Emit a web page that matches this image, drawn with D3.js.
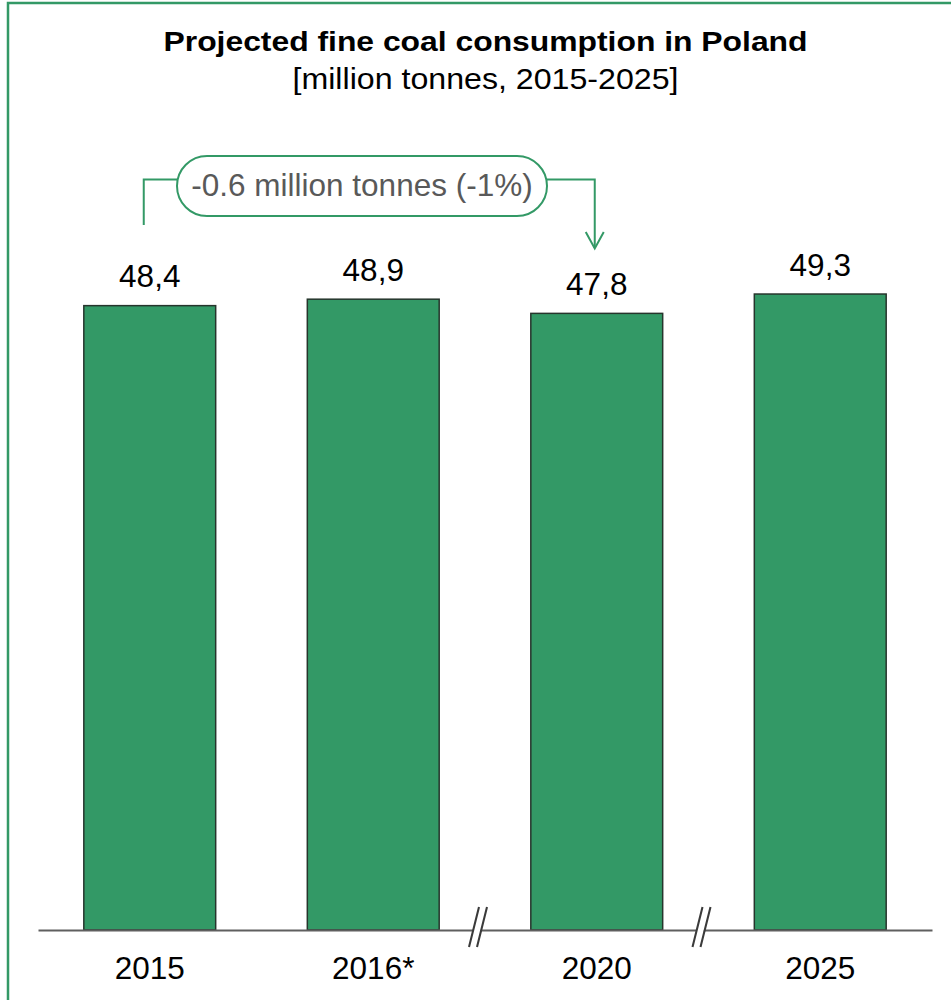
<!DOCTYPE html>
<html>
<head>
<meta charset="utf-8">
<script src="https://cdn.jsdelivr.net/npm/d3@7"></script>
<style>
  html, body { margin: 0; padding: 0; background: #fff; }
  svg { display: block; font-family: "Liberation Sans", Arial, sans-serif; }
</style>
</head>
<body>
<svg id="chart" width="951" height="1000"></svg>
<script>
// Fine coal consumption in Poland, million tonnes
const years = ["2015", "2016*", "2020", "2025"];
const consumption = [48.4, 48.9, 47.8, 49.3];
const valueLabels = ["48,4", "48,9", "47,8", "49,3"];
// axis breaks sit before these categories (gaps in the time series)
const breaksBefore = ["2020", "2025"];
const changeLabel = "-0.6 million tonnes (-1%)";
const changeFrom = "2015";
const changeTo = "2020";
const titleText = "Projected fine coal consumption in Poland";
const subtitleText = "[million tonnes, 2015-2025]";

const green = "#339966";
const svg = d3.select("#chart");
const W = 951;

// frame
svg.append("rect")
  .attr("x", 8).attr("y", 3).attr("width", 980).attr("height", 1020)
  .attr("fill", "none").attr("stroke", green).attr("stroke-width", 2.5);

// titles
svg.append("text")
  .attr("x", W / 2 + 10).attr("y", 51)
  .attr("text-anchor", "middle")
  .attr("font-size", 28).attr("font-weight", "bold").attr("fill", "#000")
  .attr("textLength", 644).attr("lengthAdjust", "spacingAndGlyphs")
  .text(titleText);
svg.append("text")
  .attr("x", W / 2 + 10).attr("y", 89)
  .attr("text-anchor", "middle")
  .attr("font-size", 30).attr("fill", "#000")
  .attr("textLength", 386).attr("lengthAdjust", "spacingAndGlyphs")
  .text(subtitleText);

// scales
const x = d3.scaleBand().domain(years).range([38, 932]).paddingInner(0.41).paddingOuter(0.205);
const y = d3.scaleLinear().domain([0, 50]).range([930, 285]);
const bw = x.bandwidth();
const rows = years.map((yr, i) => ({ yr, v: consumption[i], label: valueLabels[i] }));

// bars
svg.append("g").selectAll("rect")
  .data(rows)
  .join("rect")
  .attr("x", d => x(d.yr))
  .attr("y", d => y(d.v))
  .attr("width", bw)
  .attr("height", d => y(0) - y(d.v))
  .attr("fill", green)
  .attr("stroke", "#26352c")
  .attr("stroke-width", 1.5);

// value labels
svg.append("g").selectAll("text")
  .data(rows)
  .join("text")
  .attr("x", d => x(d.yr) + bw / 2)
  .attr("y", d => y(d.v) - 18.5)
  .attr("text-anchor", "middle")
  .attr("font-size", 31.5).attr("fill", "#000")
  .text(d => d.label);

// baseline axis
const axis = d3.axisBottom(x).tickSize(0);
const gx = svg.append("g").attr("transform", `translate(0,${y(0)})`).call(axis);
gx.select(".domain").attr("stroke", "#5f5f5f").attr("stroke-width", 2);
gx.selectAll(".tick text")
  .attr("font-size", 31.5).attr("fill", "#000")
  .attr("font-family", "Liberation Sans, Arial, sans-serif")
  .attr("dy", 0).attr("y", 49);

// axis break marks
const step = x.step();
breaksBefore.forEach(cat => {
  const bx = x(cat) - step * x.paddingInner() / 2 - 7;
  const by = y(0);
  const g = svg.append("g");
  g.append("polygon")
    .attr("points", `${bx - 8},${by + 10} ${bx - 1},${by + 10} ${bx + 6},${by - 10} ${bx - 1},${by - 10}`)
    .attr("fill", "#fff");
  [-4, 4].forEach(off => {
    g.append("line")
      .attr("x1", bx + off - 5).attr("y1", by + 17)
      .attr("x2", bx + off + 5).attr("y2", by - 23)
      .attr("stroke", "#3a3a3a").attr("stroke-width", 2);
  });
});

// change annotation between 2015 and 2020
const ax1 = x(changeFrom) + bw / 2 - 6;
const ax2 = x(changeTo) + bw / 2 - 2;
const lineY = 179.5;
const pillL = 177, pillR = 547, pillT = 156, pillB = 216;
const ann = svg.append("g").attr("fill", "none").attr("stroke", green).attr("stroke-width", 2);
ann.append("path").attr("d", `M${ax1},225 V${lineY} H${pillL}`);
ann.append("path").attr("d", `M${pillR},${lineY} H${ax2} V248`);
ann.append("path").attr("d", `M${ax2 - 9},232 L${ax2},248.5 L${ax2 + 9},232`);
ann.append("rect")
  .attr("x", pillL).attr("y", pillT)
  .attr("width", pillR - pillL).attr("height", pillB - pillT)
  .attr("rx", (pillB - pillT) / 2).attr("ry", (pillB - pillT) / 2)
  .attr("fill", "#fff");
svg.append("text")
  .attr("x", (pillL + pillR) / 2).attr("y", 196)
  .attr("text-anchor", "middle")
  .attr("font-size", 31.5).attr("fill", "#595959")
  .text(changeLabel);
</script>
</body>
</html>
